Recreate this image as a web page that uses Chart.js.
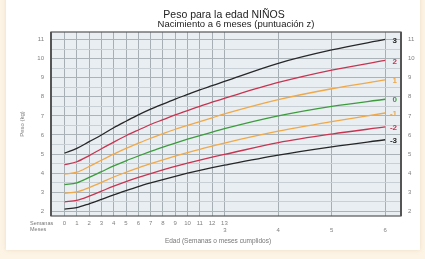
<!DOCTYPE html>
<html>
<head>
<meta charset="utf-8">
<script src="https://cdn.jsdelivr.net/npm/chart.js@4.4.1/dist/chart.umd.min.js"></script>
<style>
html, body { margin: 0; padding: 0; width: 425px; height: 259px; overflow: hidden; background: #fdf4e6; }
#card { position: absolute; left: 6px; top: -6px; width: 414px; height: 256px; background: #fff; box-shadow: 0 0 4px rgba(210, 180, 130, .35); }
#wrap { position: absolute; left: 0; top: 0; width: 425px; height: 259px; }
</style>
</head>
<body>
<div id="card"></div>
<div id="wrap"><canvas id="grafico" width="425" height="259"></canvas></div>
<script>
// eje x: semanas 0-13, luego meses 4-6 (el mes 3 coincide con la semana 13)
const semanas = [0, 1, 2, 3, 4, 5, 6, 7, 8, 9, 10, 11, 12, 13]
const meses = [3, 4, 5, 6]
const mesesExtra = [4, 5, 6]
const SEM_POR_MES = 4.345

// peso (kg) por puntuación z, semanas 0..13 y meses 4,5,6
const z3 = [5.05, 5.3, 5.65, 6.0, 6.38, 6.72, 7.05, 7.35, 7.62, 7.88, 8.12, 8.36, 8.58, 8.8, 9.75, 10.45, 11.0]
const z2 = [4.45, 4.6, 4.92, 5.28, 5.63, 5.96, 6.26, 6.55, 6.8, 7.05, 7.28, 7.5, 7.72, 7.92, 8.75, 9.4, 9.9]
const z1 = [3.95, 4.05, 4.35, 4.68, 5.0, 5.3, 5.57, 5.83, 6.07, 6.3, 6.5, 6.7, 6.9, 7.1, 7.85, 8.42, 8.88]
const z0 = [3.4, 3.5, 3.78, 4.08, 4.38, 4.65, 4.9, 5.14, 5.37, 5.58, 5.78, 5.97, 6.15, 6.33, 7.0, 7.5, 7.87]
const z1neg = [2.95, 3.02, 3.25, 3.52, 3.8, 4.05, 4.28, 4.5, 4.7, 4.9, 5.08, 5.25, 5.42, 5.58, 6.2, 6.7, 7.15]
const z2neg = [2.5, 2.58, 2.8, 3.06, 3.32, 3.56, 3.78, 3.98, 4.18, 4.36, 4.53, 4.69, 4.84, 4.98, 5.6, 6.05, 6.42]
const z3neg = [2.12, 2.2, 2.4, 2.63, 2.87, 3.09, 3.3, 3.49, 3.67, 3.84, 4.0, 4.15, 4.29, 4.42, 4.95, 5.38, 5.75]

const pesoMin = 2
const pesoMax = 11

const NEGRO = '#262626'
const ROJO = '#c8344f'
const NARANJA = '#f0a848'
const VERDE = '#3c9c3c'

const posX = semanas.concat(mesesExtra.map(m => m * SEM_POR_MES))

const series = [
    { nombre: '3', datos: z3, color: NEGRO },
    { nombre: '2', datos: z2, color: ROJO },
    { nombre: '1', datos: z1, color: NARANJA },
    { nombre: '0', datos: z0, color: VERDE },
    { nombre: '-1', datos: z1neg, color: NARANJA },
    { nombre: '-2', datos: z2neg, color: ROJO },
    { nombre: '-3', datos: z3neg, color: NEGRO },
]

const FUENTE = "'Liberation Sans', Arial, sans-serif"

const fondoYTextos = {
    id: 'fondoYTextos',
    beforeDraw(chart) {
        const { ctx, chartArea: a } = chart
        ctx.save()
        ctx.fillStyle = '#e8eef2'
        ctx.fillRect(a.left, a.top, a.right - a.left, a.bottom - a.top)
        ctx.restore()
    },
    afterDraw(chart) {
        const { ctx, chartArea: a, scales } = chart
        ctx.save()
        // marco
        ctx.strokeStyle = '#555'
        ctx.lineWidth = 1.2
        ctx.strokeRect(a.left, a.top, a.right - a.left, a.bottom - a.top)
        ctx.lineWidth = 2
        ctx.beginPath()
        ctx.moveTo(a.left, a.top); ctx.lineTo(a.left, a.bottom)
        ctx.moveTo(a.right, a.top); ctx.lineTo(a.right, a.bottom)
        ctx.stroke()

        // etiquetas al final de cada curva
        ctx.font = 'bold 8px ' + FUENTE
        ctx.textAlign = 'right'
        ctx.textBaseline = 'middle'
        series.forEach(s => {
            const y = scales.y.getPixelForValue(s.datos[s.datos.length - 1])
            ctx.fillStyle = s.color
            ctx.fillText(s.nombre, a.right - 4, y + 1)
        })

        // títulos
        ctx.fillStyle = '#222'
        ctx.textAlign = 'center'
        ctx.font = '10.5px ' + FUENTE
        ctx.fillText('Peso para la edad NIÑOS', 224, 15)
        ctx.font = '9.5px ' + FUENTE
        ctx.fillText('Nacimiento a 6 meses (puntuación z)', 236, 24.5)

        ctx.fillStyle = '#777'
        ctx.font = '6.5px ' + FUENTE
        ctx.fillText('Edad (Semanas o meses cumplidos)', 218, 241)

        ctx.textAlign = 'left'
        ctx.font = '5.5px ' + FUENTE
        ctx.fillText('Semanas', 30, 223.5)
        ctx.fillText('Meses', 30, 229.5)
        ctx.restore()
    }
}

const tickFont = { family: FUENTE, size: 6 }

new Chart(document.getElementById('grafico'), {
    type: 'line',
    data: {
        datasets: series.map(s => ({
            label: s.nombre,
            data: s.datos.map((v, i) => ({ x: posX[i], y: v })),
            borderColor: s.color,
            borderWidth: 1.3,
            pointRadius: 0,
            cubicInterpolationMode: 'monotone',
            fill: false,
        }))
    },
    options: {
        responsive: false,
        animation: false,
        layout: { padding: { top: 32, left: 0, right: 0, bottom: 24 } },
        plugins: { legend: { display: false }, tooltip: { enabled: false } },
        scales: {
            x: {
                type: 'linear',
                position: 'bottom',
                min: -1.1,
                max: 27.36,
                afterBuildTicks: s => {
                    s.ticks = posX.map(v => ({ value: v }))
                },
                afterFit: s => { s.height = 10 },
                grid: { color: '#a6afb4', lineWidth: 1, drawTicks: false },
                border: { display: false },
                ticks: {
                    autoSkip: false, maxRotation: 0, padding: 4,
                    font: tickFont, color: '#808080',
                    callback: v => semanas.includes(v) ? String(v) : ''
                }
            },
            xm: {
                type: 'linear',
                position: 'bottom',
                min: -1.1,
                max: 27.36,
                afterBuildTicks: s => {
                    s.ticks = meses.map(m => ({ value: m * SEM_POR_MES }))
                },
                afterFit: s => { s.height = 9 },
                grid: { display: false, drawTicks: false },
                border: { display: false },
                ticks: {
                    autoSkip: false, maxRotation: 0, padding: 1,
                    font: tickFont, color: '#808080',
                    callback: v => String(Math.round(v / SEM_POR_MES))
                }
            },
            y: {
                position: 'left',
                min: 1.76,
                max: 11.39,
                afterBuildTicks: s => {
                    const t = []
                    for (let v = pesoMin; v <= pesoMax; v += 0.5) t.push({ value: v })
                    s.ticks = t
                },
                afterFit: s => { s.width = 51 },
                grid: {
                    drawTicks: false,
                    color: c => Number.isInteger(c.tick.value) ? '#aab3b8' : '#c8d0d5'
                },
                border: { display: false },
                title: { display: true, text: 'Peso (kg)', font: { family: FUENTE, size: 6 }, color: '#808080', padding: { top: 19, bottom: 0 } },
                ticks: {
                    padding: 7, font: tickFont, color: '#808080',
                    callback: v => Number.isInteger(v) ? String(v) : ''
                }
            },
            y2: {
                position: 'right',
                min: 1.76,
                max: 11.39,
                afterBuildTicks: s => {
                    const t = []
                    for (let v = pesoMin; v <= pesoMax; v++) t.push({ value: v })
                    s.ticks = t
                },
                afterFit: s => { s.width = 24 },
                grid: { display: false, drawTicks: false },
                border: { display: false },
                ticks: {
                    padding: 7, font: tickFont, color: '#808080',
                    callback: v => String(v)
                }
            }
        }
    },
    plugins: [fondoYTextos]
})
</script>
</body>
</html>
